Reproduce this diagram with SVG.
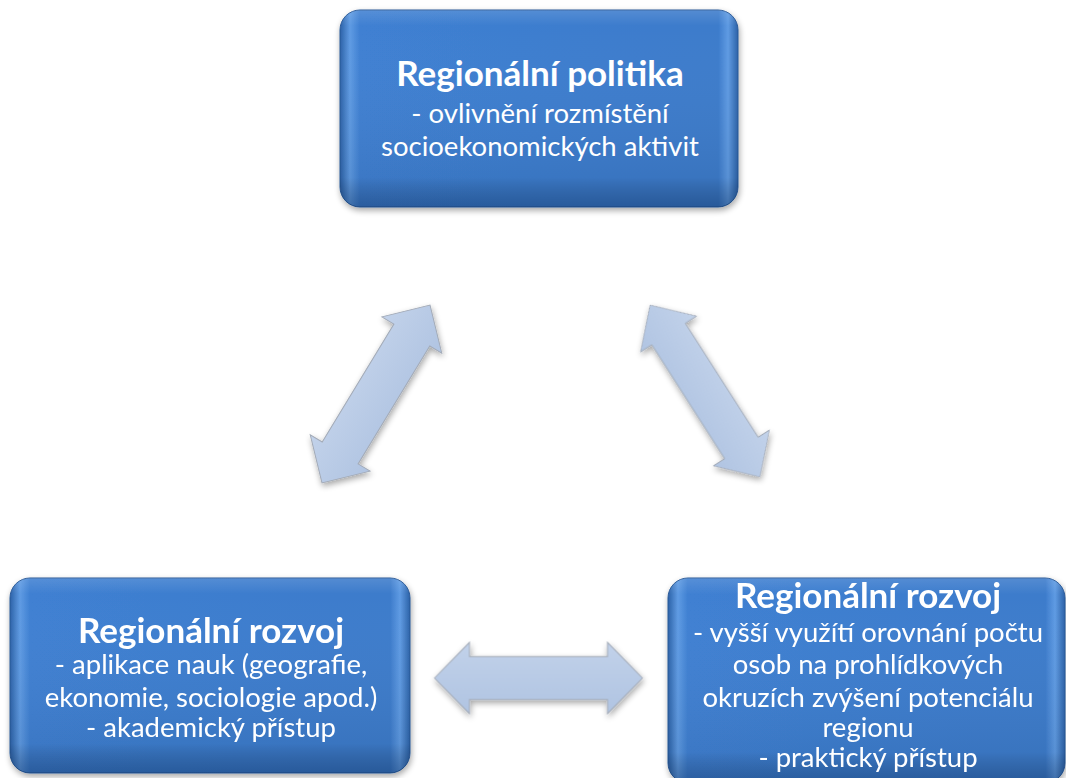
<svg xmlns="http://www.w3.org/2000/svg" width="1066" height="778" viewBox="0 0 1066 778">
<defs>
<linearGradient id="hband" x1="0" y1="0" x2="1" y2="0">
<stop offset="0" stop-color="#2c62a8"/>
<stop offset="0.025" stop-color="#5f9be3"/>
<stop offset="0.05" stop-color="#3f80d2"/>
<stop offset="0.95" stop-color="#3c7bcb"/>
<stop offset="0.975" stop-color="#5f9be3"/>
<stop offset="1" stop-color="#2c62a8"/>
</linearGradient>
<linearGradient id="vshade" x1="0" y1="0" x2="0" y2="1">
<stop offset="0" stop-color="#ffffff" stop-opacity="0.12"/>
<stop offset="0.08" stop-color="#ffffff" stop-opacity="0"/>
<stop offset="0.85" stop-color="#000000" stop-opacity="0.06"/>
<stop offset="1" stop-color="#001a40" stop-opacity="0.35"/>
</linearGradient>
<linearGradient id="arrowFill" x1="0" y1="0" x2="0" y2="1">
<stop offset="0" stop-color="#c2d2ea"/>
<stop offset="1" stop-color="#b0c4e2"/>
</linearGradient>
<filter id="shadow" x="-10%" y="-10%" width="120%" height="130%">
<feGaussianBlur in="SourceAlpha" stdDeviation="3"/>
<feOffset dx="1" dy="3" result="b"/>
<feComponentTransfer><feFuncA type="linear" slope="0.35"/></feComponentTransfer>
<feMerge><feMergeNode/><feMergeNode in="SourceGraphic"/></feMerge>
</filter>
<polygon id="dblArrow" points="-104,0 -69,-35 -69,-21 69,-21 69,-35 104,0 69,35 69,21 -69,21 -69,35"/>
<style>
.box{fill:url(#hband);stroke:#2a5a98;stroke-width:1}
.shade{fill:url(#vshade)}
.title{font-family:Lato,"Liberation Sans",sans-serif;font-weight:bold;font-size:35px;fill:#ffffff;text-anchor:middle}
.body{font-family:Lato,"Liberation Sans",sans-serif;font-size:27.5px;fill:#ffffff;text-anchor:middle}
.arrow{fill:url(#arrowFill);stroke:#a3abb8;stroke-width:1}
</style>
</defs>
<rect width="1066" height="778" fill="#ffffff"/>

<g id="connectors" filter="url(#shadow)">
<use href="#dblArrow" class="arrow" transform="translate(376,394) rotate(-58.7)"/>
<use href="#dblArrow" class="arrow" transform="translate(705,391) rotate(57.4) scale(0.98,0.95)"/>
<use href="#dblArrow" class="arrow" transform="translate(538.5,678) scale(1,1.02)"/>
</g>

<g id="node-politika">
<g filter="url(#shadow)">
<rect class="box" x="340" y="10" width="398" height="197" rx="20"/>
</g>
<rect class="shade" x="340" y="10" width="398" height="197" rx="20"/>
<text class="title" x="540" y="86">Regionální politika</text>
<text class="body" x="540" y="123">- ovlivnění rozmístění</text>
<text class="body" x="540" y="156">socioekonomických aktivit</text>
</g>

<g id="node-rozvoj-akademicky">
<g filter="url(#shadow)">
<rect class="box" x="10" y="578" width="400" height="195" rx="20"/>
</g>
<rect class="shade" x="10" y="578" width="400" height="195" rx="20"/>
<text class="title" x="211" y="643">Regionální rozvoj</text>
<text class="body" x="211" y="674">- aplikace nauk (geografie,</text>
<text class="body" x="211" y="707">ekonomie, sociologie apod.)</text>
<text class="body" x="211" y="737">- akademický přístup</text>
</g>

<g id="node-rozvoj-prakticky">
<g filter="url(#shadow)">
<rect class="box" x="668" y="578" width="397" height="205" rx="20"/>
</g>
<rect class="shade" x="668" y="578" width="397" height="205" rx="20"/>
<text class="title" x="868" y="608">Regionální rozvoj</text>
<text class="body" x="868" y="642">- vyšší využítí orovnání počtu</text>
<text class="body" x="868" y="674">osob na prohlídkových</text>
<text class="body" x="868" y="707">okruzích zvýšení potenciálu</text>
<text class="body" x="868" y="737">regionu</text>
<text class="body" x="868" y="767">- praktický přístup</text>
</g>
</svg>
